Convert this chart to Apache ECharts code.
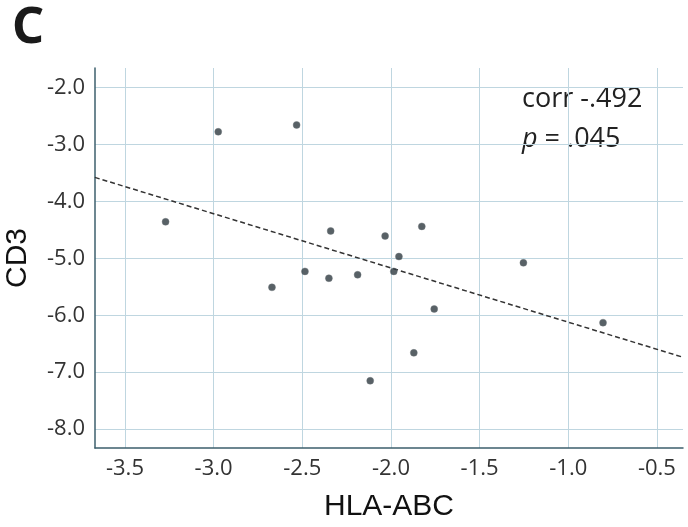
<!DOCTYPE html>
<html>
<head>
<meta charset="utf-8">
<script src="https://cdn.jsdelivr.net/npm/echarts@6/dist/echarts.min.js"></script>
<style>
  html, body { margin: 0; padding: 0; background: #fff; }
  #chart { width: 688px; height: 527px; }
</style>
</head>
<body>
<div id="chart"></div>
<script>
// HLA-ABC (x) vs CD3 (y), one point per sample
const hlaAbc = [-2.974, -2.532, -3.271, -2.340, -2.033, -1.826, -1.955, -2.485, -2.350,
                -2.188, -1.984, -1.756, -1.871, -2.117, -1.253, -0.804, -2.671]
const cd3 = [-2.78, -2.66, -4.36, -4.52, -4.61, -4.44, -4.97, -5.23, -5.35,
             -5.29, -5.23, -5.89, -6.66, -7.15, -5.08, -6.13, -5.51]

// fitted line end points as drawn in the figure
const fitX = [-3.67, -0.35]
const fitY = [-3.58, -6.74]

const corrText = 'corr -.492'
const pValue = '.045'

const chartInstance = echarts.init(document.getElementById('chart'))

const gridColor = '#bfd6e0'
const axisColor = '#3d5f6c'

const option = {
  animation: false,
  grid: {
    left: 95,
    right: 5,
    top: 68,
    bottom: 79,
    containLabel: false,
    outerBoundsMode: 'none',
  },
  xAxis: {
    type: 'value',
    min: -3.669,
    max: -0.353,
    splitNumber: 7,
    minInterval: 0.5,
    maxInterval: 0.5,
    name: 'HLA-ABC',
    nameLocation: 'middle',
    nameGap: 44,
    nameTextStyle: { fontFamily: 'Liberation Sans', fontSize: 30, color: '#111' },
    axisLine: { show: true, lineStyle: { color: axisColor, width: 1.5 } },
    axisTick: { show: false },
    axisLabel: {
      showMinLabel: false,
      showMaxLabel: false,
      margin: 10,
      fontFamily: 'Open Sans',
      fontSize: 22,
      color: '#333',
      formatter: v => v.toFixed(1),
    },
    splitLine: { show: true, showMinLine: false, showMaxLine: false, lineStyle: { color: gridColor, width: 1 } },
  },
  yAxis: {
    type: 'value',
    min: -8.33,
    max: -1.66,
    splitNumber: 6,
    minInterval: 1,
    maxInterval: 1,
    name: 'CD3',
    nameLocation: 'middle',
    nameGap: 62,
    nameRotate: 90,
    nameTextStyle: { fontFamily: 'Liberation Sans', fontSize: 30, color: '#111' },
    axisLine: { show: true, lineStyle: { color: axisColor, width: 1.5 } },
    axisTick: { show: false },
    axisLabel: {
      showMinLabel: false,
      showMaxLabel: false,
      margin: 10,
      fontFamily: 'Open Sans',
      fontSize: 22,
      color: '#333',
      formatter: v => v.toFixed(1),
    },
    splitLine: { show: true, showMinLine: false, showMaxLine: false, lineStyle: { color: gridColor, width: 1 } },
  },
  series: [
    {
      name: 'fit',
      type: 'line',
      data: fitX.map((x, i) => [x, fitY[i]]),
      symbol: 'none',
      lineStyle: { color: '#333', width: 1.5, type: [5, 3] },
      z: 2,
    },
    {
      name: 'samples',
      type: 'scatter',
      data: hlaAbc.map((x, i) => [x, cd3[i]]),
      symbol: 'circle',
      symbolSize: 7,
      itemStyle: { color: '#2e3a40', borderColor: '#6b7479', borderWidth: 0.5 },
      z: 3,
    },
  ],
  graphic: [
    {
      type: 'text',
      left: 12,
      top: 4,
      style: {
        text: 'C',
        font: 'bold 50px "Noto Sans"',
        fill: '#1a1a1a',
      },
    },
    {
      type: 'text',
      left: 522,
      top: 86,
      style: {
        text: '{n|' + corrText + '}\n{i|p}{n| = ' + pValue + '}',
        rich: {
          n: { fontFamily: 'Open Sans', fontSize: 27, fill: '#222', lineHeight: 40 },
          i: { fontFamily: 'Open Sans', fontStyle: 'italic', fontSize: 27, fill: '#222', lineHeight: 40 },
        },
      },
    },
  ],
}

chartInstance.setOption(option)
</script>
</body>
</html>
